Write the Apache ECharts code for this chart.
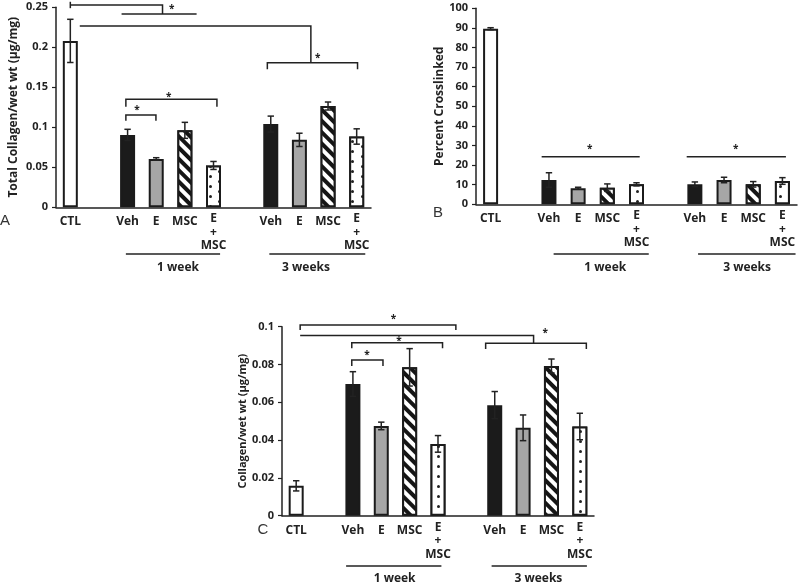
<!DOCTYPE html>
<html><head><meta charset="utf-8">
<script src="https://cdn.jsdelivr.net/npm/echarts@6/dist/echarts.min.js"></script>
<style>html,body{margin:0;padding:0;background:#fff}#c{width:800px;height:585px}</style>
</head><body><div id="c"></div>
<script>
// ---------------- data ----------------
const categories = ['CTL', '', 'Veh', 'E', 'MSC', 'E\n+\nMSC', '', 'Veh', 'E', 'MSC', 'E\n+\nMSC'];
const groupLabels = ['1 week', '3 weeks'];

const totalCollagen    = [0.208, null, 0.0905, 0.0605, 0.0962, 0.0523, null, 0.104, 0.0843, 0.1266, 0.0885];
const totalCollagenErr = [0.027, null, 0.007, 0.0015, 0.010, 0.005, null, 0.010, 0.0083, 0.005, 0.0096];
const ticksA = ['0', '0.05', '0.1', '0.15', '0.2', '0.25'];

const percentCrosslinked    = [89.6, null, 12.4, 8.2, 8.5, 10.2, null, 10.2, 12.4, 10.2, 11.9];
const percentCrosslinkedErr = [0.5, null, 3.7, 0.5, 1.9, 0.8, null, 1.2, 1.4, 1.4, 1.7];
const ticksB = ['0', '10', '20', '30', '40', '50', '60', '70', '80', '90', '100'];

const collagenWetWt    = [0.0158, null, 0.0697, 0.0475, 0.0785, 0.038, null, 0.0585, 0.0465, 0.0792, 0.0472];
const collagenWetWtErr = [0.0027, null, 0.0065, 0.002, 0.0099, 0.0044, null, 0.0072, 0.0068, 0.0037, 0.007];
const ticksC = ['0', '0.02', '0.04', '0.06', '0.08', '0.1'];

// significance brackets: polylines in (category index, value) space
const bracketsA = [
  [[0, 0.2569], [0, 0.2489]],
  [[0, 0.2529], [3.22, 0.2529], [3.22, 0.2416]],
  [[1.79, 0.2416], [4.41, 0.2416]],
  [[0.33, 0.2266], [8.40, 0.2266], [8.40, 0.1808]],
  [[6.88, 0.1725], [6.88, 0.1808], [10.03, 0.1808], [10.03, 0.1725]],
  [[1.94, 0.1258], [1.94, 0.135], [5.12, 0.135], [5.12, 0.1258]],
  [[1.94, 0.1083], [1.94, 0.1154], [2.99, 0.1154], [2.99, 0.1083]]
];
const starsA = [[3.54, 0.2505], [8.64, 0.189], [3.44, 0.140], [2.33, 0.124]];

const bracketsB = [
  [[1.75, 24.3], [5.11, 24.3]],
  [[6.72, 24.3], [10.12, 24.3]]
];
const starsB = [[3.40, 29.4], [8.40, 29.4]];

const bracketsC = [
  [[0.14, 0.0983], [0.14, 0.1009], [5.63, 0.1009], [5.63, 0.0983]],
  [[0.14, 0.0954], [8.37, 0.0954], [8.37, 0.0912]],
  [[6.68, 0.0882], [6.68, 0.0912], [10.23, 0.0912], [10.23, 0.0882]],
  [[1.96, 0.0886], [1.96, 0.0915], [5.16, 0.0915], [5.16, 0.0886]],
  [[1.96, 0.0792], [1.96, 0.0824], [3.06, 0.0824], [3.06, 0.0792]]
];
const starsC = [[3.43, 0.1053], [8.78, 0.0977], [3.62, 0.0933], [2.5, 0.0862]];

// group underline spans (category index space) and label centres
const groupSpansA = [[1.94, 5.23, 3.76], [6.95, 10.3, 8.23]];
const groupSpansB = [[2.16, 5.42, 3.93], [7.11, 10.45, 8.79]];
const groupSpansC = [[1.76, 5.12, 3.47], [6.89, 10.25, 8.54]];

// ---------------- styles ----------------
const INK = '#222';
const FONT = '"Open Sans", Lato, sans-serif';
const fills = {
  'CTL': { color: '#ffffff' },
  'Veh': { color: '#1b1b1b' },
  'E': { color: '#a6a6a6' },
  'MSC': { color: '#ffffff', decal: { symbol: 'rect', dashArrayX: [1, 0], dashArrayY: [3.5, 3.5], rotation: Math.PI / 4, color: '#151515', backgroundColor: '#ffffff' } },
  'E\n+\nMSC': { color: '#ffffff', decal: { symbol: 'circle', symbolSize: 1, dashArrayX: [[2.2, 15.8], [0, 9, 2.2, 6.8]], dashArrayY: [2.2, 1.3], color: '#222', backgroundColor: '#ffffff' } }
};

const panels = [
  { grid: { left: 56, top: 7.3, width: 315, height: 200 }, vals: totalCollagen, errs: totalCollagenErr, ticks: ticksA,
    name: 'Total Collagen/wet wt (µg/mg)', nameGap: 36, nameSize: 12, brackets: bracketsA, stars: starsA, groups: groupSpansA, lineOff: 46.7, textOff: 60.7 },
  { grid: { left: 476, top: 8.3, width: 321, height: 196 }, vals: percentCrosslinked, errs: percentCrosslinkedErr, ticks: ticksB,
    name: 'Percent Crosslinked', nameGap: 29, nameSize: 12, brackets: bracketsB, stars: starsB, groups: groupSpansB, lineOff: 49.7, textOff: 63.4 },
  { grid: { left: 282, top: 326.7, width: 312, height: 189 }, vals: collagenWetWt, errs: collagenWetWtErr, ticks: ticksC,
    name: 'Collagen/wet wt (µg/mg)', nameGap: 34, nameSize: 11, brackets: bracketsC, stars: starsC, groups: groupSpansC, lineOff: 50.3, textOff: 62.6 }
];

const chart = echarts.init(document.getElementById('c'), null, { renderer: 'canvas' });

const grids = [], xAxes = [], yAxes = [], series = [];
panels.forEach((p, i) => {
  grids.push(Object.assign({ containLabel: false }, p.grid));
  const tickVals = p.ticks.map(Number);
  xAxes.push({
    gridIndex: i, type: 'category',
    data: categories.map(c => c.indexOf('\n') >= 0 ? { value: c, textStyle: { padding: [-3, 0, 0, 0], lineHeight: 13.5 } } : c),
    axisTick: { show: false },
    axisLine: { lineStyle: { color: INK, width: 1.5 } },
    axisLabel: { interval: 0, color: INK, fontFamily: FONT, fontWeight: 'bold', fontSize: 12, lineHeight: 13.5, margin: 8 }
  });
  yAxes.push({
    gridIndex: i, type: 'value', min: tickVals[0], max: tickVals[tickVals.length - 1], interval: tickVals[1] - tickVals[0],
    splitLine: { show: false },
    axisLine: { show: true, lineStyle: { color: INK, width: 1.5 } },
    axisTick: { show: true, length: 4, lineStyle: { color: INK, width: 1.2 } },
    axisLabel: { color: INK, fontFamily: FONT, fontWeight: 'bold', fontSize: 11, margin: 8,
      formatter: v => { const k = tickVals.findIndex(t => Math.abs(t - v) < 1e-9); return k >= 0 ? p.ticks[k] : ''; } },
    name: p.name, nameLocation: 'middle', nameGap: p.nameGap,
    nameTextStyle: { color: INK, fontFamily: FONT, fontWeight: 'bold', fontSize: p.nameSize }
  });
  series.push({
    type: 'bar', xAxisIndex: i, yAxisIndex: i, barWidth: 15, silent: true,
    data: p.vals.map((v, k) => v == null ? '-' : {
      value: v,
      itemStyle: Object.assign({ borderColor: '#1b1b1b', borderWidth: 2 }, fills[categories[k]])
    })
  });
  series.push({
    type: 'custom', xAxisIndex: i, yAxisIndex: i, silent: true, z: 5,
    data: p.vals.map((v, k) => v == null ? null : [k, v, p.errs[k]]).filter(d => d),
    renderItem: (params, api) => {
      const x = api.value(0), v = api.value(1), e = api.value(2);
      const t = api.coord([x, v + e]), b = api.coord([x, v - e]);
      const w = 3.2, st = { stroke: INK, lineWidth: 1.5 };
      return { type: 'group', children: [
        { type: 'line', shape: { x1: t[0], y1: t[1], x2: b[0], y2: b[1] }, style: st },
        { type: 'line', shape: { x1: t[0] - w, y1: t[1], x2: t[0] + w, y2: t[1] }, style: st },
        { type: 'line', shape: { x1: b[0] - w, y1: b[1], x2: b[0] + w, y2: b[1] }, style: st }
      ] };
    }
  });
});

chart.setOption({
  animation: false,
  backgroundColor: '#ffffff',
  grid: grids, xAxis: xAxes, yAxis: yAxes, series: series
});

// ---------------- annotations ----------------
function px(i, cat, val) {
  const a = chart.convertToPixel({ xAxisIndex: i, yAxisIndex: i }, [0, val]);
  const b = chart.convertToPixel({ xAxisIndex: i, yAxisIndex: i }, [1, val]);
  return [a[0] + cat * (b[0] - a[0]), a[1]];
}
const gfx = [];
panels.forEach((p, i) => {
  p.brackets.forEach(br => {
    gfx.push({ type: 'polyline', silent: true, shape: { points: br.map(q => px(i, q[0], q[1])) },
      style: { stroke: INK, lineWidth: 1.5, fill: null } });
  });
  p.stars.forEach(s => {
    const q = px(i, s[0], s[1]);
    gfx.push({ type: 'text', silent: true, x: q[0], y: q[1] + 2,
      style: { text: '*', font: 'bold 10px ' + FONT, fill: INK, align: 'center', verticalAlign: 'middle' } });
  });
  p.groups.forEach((g, k) => {
    const a = px(i, g[0], 0), b = px(i, g[1], 0), c = px(i, g[2], 0);
    gfx.push({ type: 'line', silent: true, shape: { x1: a[0], y1: a[1] + p.lineOff, x2: b[0], y2: b[1] + p.lineOff },
      style: { stroke: INK, lineWidth: 1.5 } });
    gfx.push({ type: 'text', silent: true, x: c[0], y: c[1] + p.textOff,
      style: { text: groupLabels[k], font: 'bold 12px ' + FONT, fill: INK, align: 'center', verticalAlign: 'middle' } });
  });
});
[['A', 5, 221], ['B', 438, 213], ['C', 263, 530]].forEach(l => {
  gfx.push({ type: 'text', silent: true, x: l[1], y: l[2],
    style: { text: l[0], font: '15px "Liberation Sans", Arial, sans-serif', fill: '#333', align: 'center', verticalAlign: 'middle' } });
});
chart.setOption({ graphic: gfx });
</script>
</body></html>
